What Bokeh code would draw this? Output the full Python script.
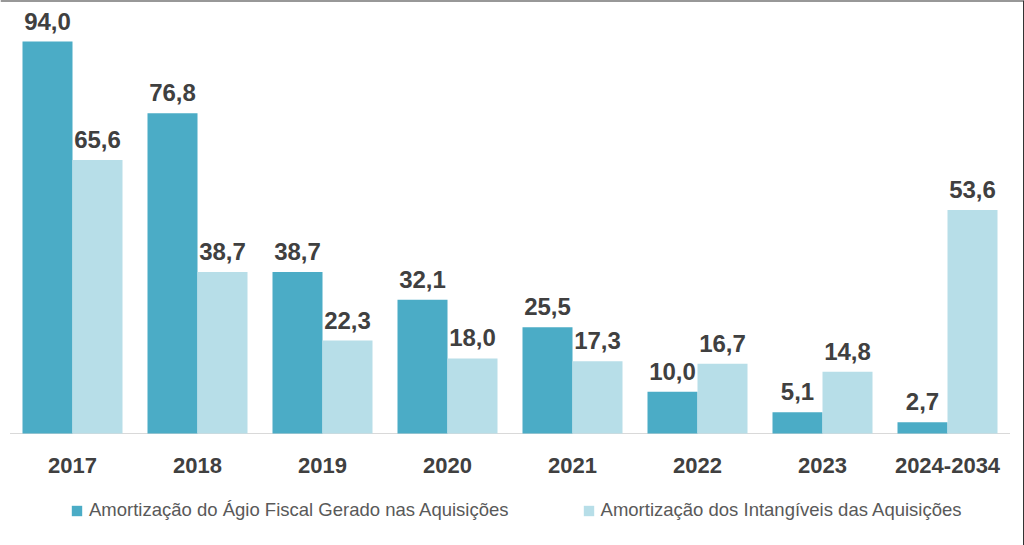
from bokeh.plotting import figure
from bokeh.models import ColumnDataSource, Range1d, Legend, LegendItem, Span
from bokeh.core.properties import value
from bokeh.embed import file_html
from bokeh.resources import INLINE

categories = ["2017", "2018", "2019", "2020", "2021", "2022", "2023", "2024-2034"]
agio_fiscal = [94.0, 76.8, 38.7, 32.1, 25.5, 10.0, 5.1, 2.7]
intangiveis = [65.6, 38.7, 22.3, 18.0, 17.3, 16.7, 14.8, 53.6]
series_names = ["Amortização do Ágio Fiscal Gerado nas Aquisições",
                "Amortização dos Intangíveis das Aquisições"]

DARK = "#4BACC6"
LIGHT = "#B7DEE8"
TXT = "#404040"
FONT = "Liberation Sans"

W, H = 1024, 545
PX_PER_UNIT = 4.17       # vertical scale (pixels per value unit)
BASE_Y = 433             # baseline pixel row
PITCH = 125              # pixels per category
LEFT = 9.5               # left edge of the first category slot

def fmt(v):
    return f"{v:.1f}".replace(".", ",")

n = len(categories)
idx = list(range(n))
src = ColumnDataSource(dict(
    i=idx,
    xa=[i - 0.2 for i in idx],
    xb=[i + 0.2 for i in idx],
    cat=categories,
    a=agio_fiscal,
    b=intangiveis,
    la=[fmt(v) for v in agio_fiscal],
    lb=[fmt(v) for v in intangiveis],
    zero=[0] * n,
))

x_start = -0.5 - LEFT / PITCH
x_end = x_start + W / PITCH
y_end = BASE_Y / PX_PER_UNIT
y_start = -(H - BASE_Y) / PX_PER_UNIT

p = figure(width=W, height=H, x_range=Range1d(x_start, x_end), y_range=Range1d(y_start, y_end),
           output_backend="svg", toolbar_location=None,
           min_border_left=0, min_border_right=0, min_border_top=0, min_border_bottom=0)
p.outline_line_color = None
p.xgrid.visible = False
p.ygrid.visible = False
p.xaxis.visible = False
p.yaxis.visible = False

# baseline
p.segment(x0=[-0.5], y0=[0], x1=[n - 0.5], y1=[0], line_color="#D9D9D9", line_width=1)

ra = p.vbar(x="xa", top="a", bottom=0, width=0.4, source=src, fill_color=DARK, line_color=None)
rb = p.vbar(x="xb", top="b", bottom=0, width=0.4, source=src, fill_color=LIGHT, line_color=None)

for xcol, col, lab in (("xa", "a", "la"), ("xb", "b", "lb")):
    p.text(x=xcol, y=col, text=lab, source=src,
           text_align="center", text_baseline="bottom", y_offset=-12,
           text_font=value(FONT), text_font_style="bold", text_font_size="24px",
           text_color=TXT)

# category labels
p.text(x="i", y="zero", text="cat", source=src, text_align="center", text_baseline="middle",
       y_offset=32, text_font=value(FONT), text_font_style="bold", text_font_size="22px",
       text_color=TXT)

legend = Legend(items=[LegendItem(label=series_names[0], renderers=[ra]),
                       LegendItem(label=series_names[1], renderers=[rb])],
                orientation="horizontal", location=(70, 24))
legend.label_text_font = FONT
legend.label_text_font_size = "18.5px"
legend.label_text_color = "#595959"
legend.glyph_width = 13
legend.glyph_height = 13
legend.spacing = 73
legend.label_standoff = 6
legend.border_line_color = None
legend.background_fill_alpha = 0
legend.padding = 0
legend.margin = 0
p.add_layout(legend)

# outer border lines (top and right)
p.add_layout(Span(location=y_end, dimension="width", line_color="#333333", line_width=2))
p.add_layout(Span(location=x_end, dimension="height", line_color="#333333", line_width=3))

open("out.html", "w").write(file_html(p, INLINE))
